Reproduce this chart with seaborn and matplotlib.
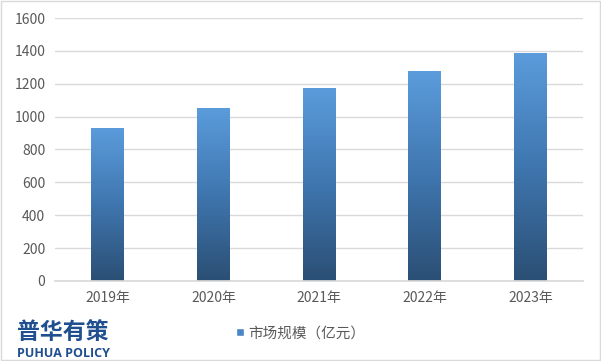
import numpy as np
import pandas as pd
import seaborn as sns
import matplotlib.pyplot as plt
from matplotlib.colors import LinearSegmentedColormap
from matplotlib.patches import Rectangle

years = ['2019年', '2020年', '2021年', '2022年', '2023年']
market_size = [933, 1055, 1176, 1275, 1390]
series_name = '市场规模（亿元）'

sns.set_theme(style='white')
plt.rcParams['font.family'] = ['Noto Sans CJK SC', 'DejaVu Sans']

df = pd.DataFrame({'year': years, 'value': market_size})

fig = plt.figure(figsize=(6.01, 3.61), dpi=100)
ax = fig.add_axes([0.0915, 0.222, 0.879, 0.728])

sns.barplot(data=df, x='year', y='value', ax=ax, width=0.31, color='#4A86C5')

# gradient fill: light blue on top, dark navy at the bottom
cmap = LinearSegmentedColormap.from_list('bar', ['#2B4F74', '#3F76AF', '#5B9CDC'])
grad = np.linspace(0, 1, 256).reshape(-1, 1)
for bar in ax.patches:
    x0, y0 = bar.get_x(), bar.get_y()
    w, h = bar.get_width(), bar.get_height()
    bar.set_facecolor('none')
    bar.set_edgecolor('none')
    im = ax.imshow(grad, cmap=cmap, origin='lower', aspect='auto',
                   extent=[x0, x0 + w, y0, y0 + h], zorder=2)
    im.set_clip_path(bar)

ax.set_xlim(-0.5, 4.5)
ax.set_ylim(0, 1600)
ax.set_yticks(range(0, 1601, 200))
ax.yaxis.grid(True, color='#D9D9D9', linewidth=1)
ax.set_axisbelow(True)
for s in ['top', 'right', 'left']:
    ax.spines[s].set_visible(False)
ax.spines['bottom'].set_color('#D9D9D9')
ax.set_xlabel('')
ax.set_ylabel('')
ax.tick_params(axis='both', length=0, labelsize=10, colors='#595959', pad=7)

# legend
handle = Rectangle((0, 0), 1, 1, facecolor='#4A86C5')
fig.legend([handle], [series_name], loc='center', bbox_to_anchor=(0.5, 0.077),
           frameon=False, fontsize=10.5, handlelength=0.55, handleheight=0.55,
           handletextpad=0.25, labelcolor='#595959')

# logo text
fig.text(0.028, 0.062, '普华有策', fontsize=16.5, fontweight='heavy', color='#1F4F8F')
fig.text(0.028, 0.012, 'PUHUA POLICY', fontsize=9, fontweight='bold', color='#1F4F8F',
         family=['Open Sans', 'DejaVu Sans'])

# light border around the image
fig.patches.append(Rectangle((0.001, 0.002), 0.997, 0.995, transform=fig.transFigure,
                             fill=False, edgecolor='#D9D9D9', linewidth=1))

fig.savefig('out.png', dpi=100)
